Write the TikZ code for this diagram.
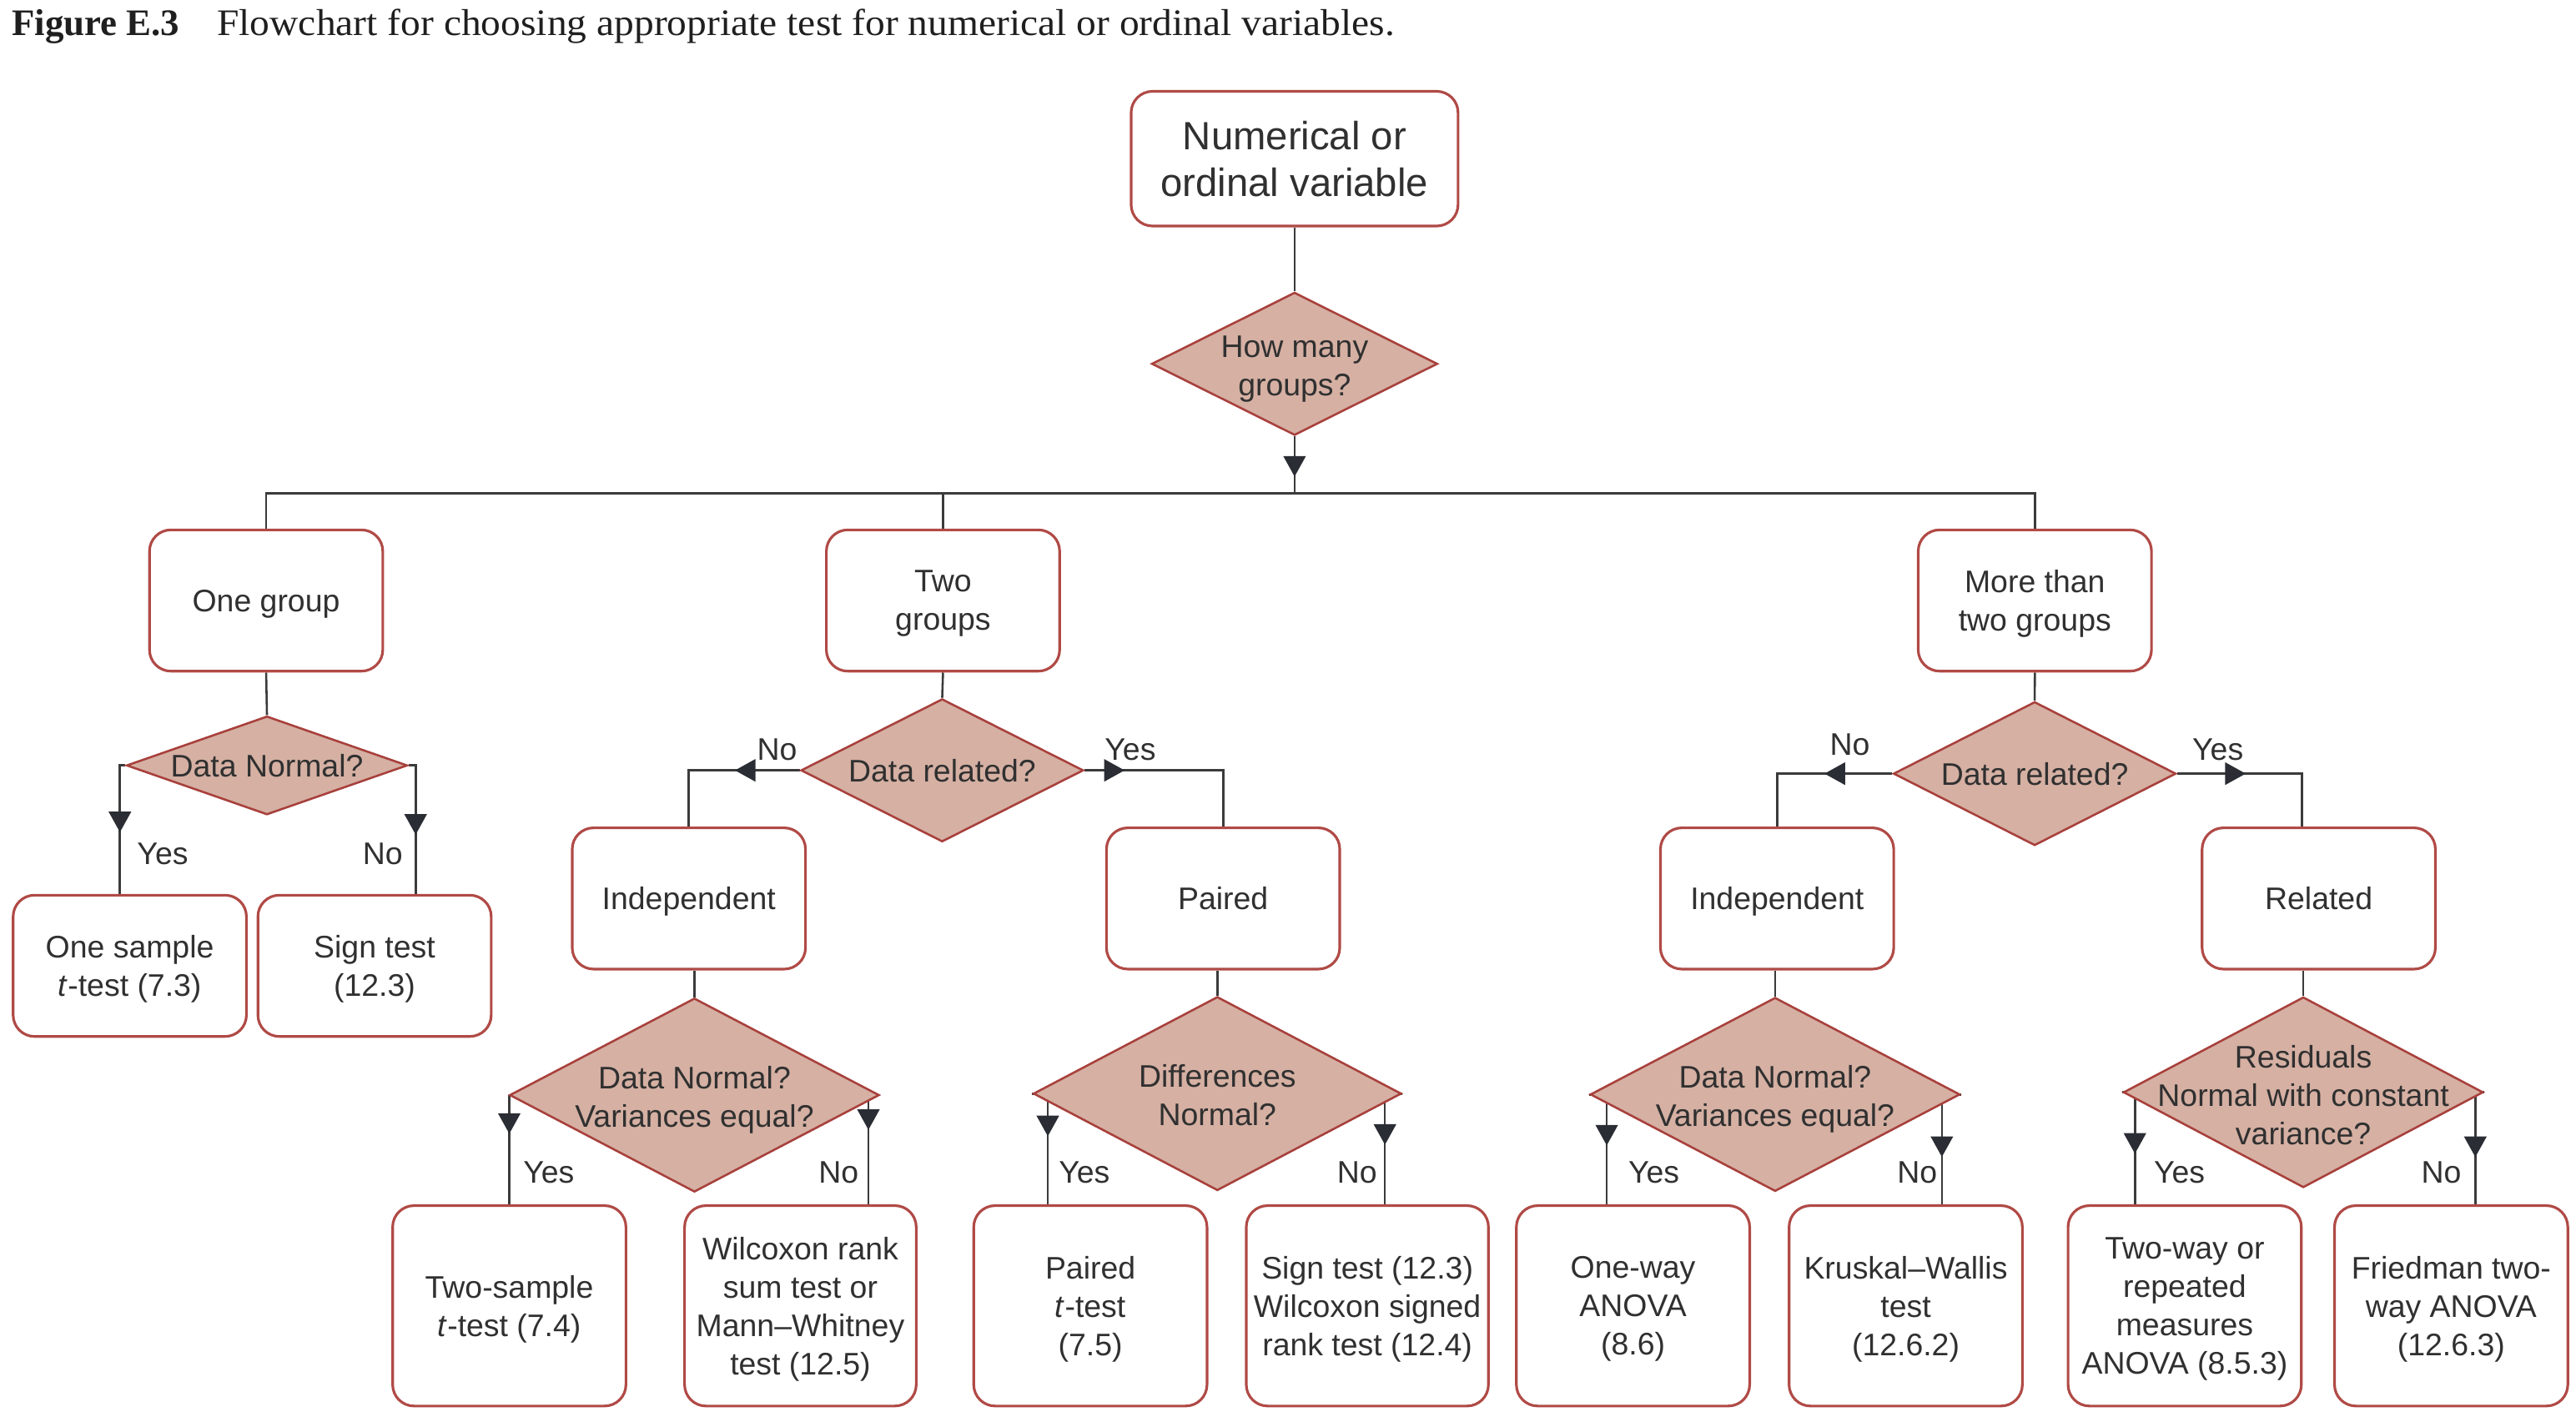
\documentclass[tikz,border=0pt]{standalone}
\usepackage{graphicx}
\usepackage{fontspec}
\setmainfont{Liberation Sans}
\newfontfamily\titlefont{Liberation Serif}
\usetikzlibrary{shapes.geometric,arrows.meta,decorations.markings}
\definecolor{boxred}{HTML}{B04A46}
\definecolor{diafill}{HTML}{D5B0A3}
\definecolor{diaedge}{HTML}{A8403C}
\definecolor{linegray}{HTML}{3B3B3B}
\definecolor{tipgray}{HTML}{2A2D33}
\definecolor{txt}{HTML}{303030}
\pgfdeclarelayer{bg}
\pgfsetlayers{bg,main}
\tikzset{
 box/.style={draw=boxred, line width=1.6pt, rounded corners=13pt, fill=white, minimum width=142pt, minimum height=86pt, align=center, text=txt, font=\fontsize{19}{23.3}\selectfont, inner sep=0pt, text depth=-3pt},
 tallbox/.style={box, minimum height=122pt},
 dia/.style={diamond, draw=diaedge, fill=diafill, line width=1.3pt, inner sep=0pt},
 diatext/.style={align=center, text=txt, font=\fontsize{19}{23.3}\selectfont, inner sep=0pt, text depth=0pt},
 conn/.style={draw=linegray, line width=1.3pt},
 tipat/.style={postaction={decorate}, decoration={markings, mark=at position #1 with {\arrow{Triangle[length=12.5pt,width=13.5pt,color=tipgray]}}}},
 lab/.style={text=txt, font=\fontsize{19}{23}\selectfont, inner sep=0pt},
}
\begin{document}
\begin{tikzpicture}[x=1pt,y=-1pt]
\useasboundingbox (0,0) rectangle (1568,862.7);
\node[anchor=base west, inner sep=0pt, text=black!88, font=\titlefont\fontsize{22.8}{26}\selectfont] (title) at (7,21.4) {\textbf{Figure E.3}\quad \scalebox{1.058}[1]{Flowchart for choosing appropriate test for numerical or ordinal variables.}};

\node[box, minimum width=199pt, minimum height=82pt, font=\fontsize{24}{28.5}\selectfont, text depth=-2pt] (top) at (788,96.6) {Numerical or\\ordinal variable};
\node[dia, minimum width=174pt, minimum height=87pt] (d0) at (788,221.5) {};
\node[diatext] (d0t) at ([yshift=-1pt]d0.center) {How many\\groups?};
\coordinate (bus) at (788,300.4);

\node[box] (g1) at (162,365.6) {One group};
\node[box] (g2) at (574,365.6) {Two\\groups};
\node[box] (g3) at (1238.6,365.6) {More than\\two groups};

% one group
\node[dia, minimum width=171pt, minimum height=60pt] (d1) at (162.5,466) {};
\node[diatext] (d1t) at (d1) {Data Normal?};
\node[box] (os) at (79,588) {One sample\\\textit{t}-test (7.3)};
\node[box] (st1) at (228,588) {Sign test\\(12.3)};

% two groups
\node[dia, minimum width=172pt, minimum height=87pt] (d2) at (573.5,469) {};
\node[diatext] (d2t) at (d2) {Data related?};
\node[box] (i1) at (419.3,547) {Independent};
\node[box] (pd) at (744.5,547) {Paired};
\node[dia, minimum width=225pt, minimum height=118pt] (d3) at (422.7,666.7) {};
\node[diatext] (d3t) at ([yshift=-1pt]d3.center) {Data Normal?\\Variances equal?};
\node[dia, minimum width=224pt, minimum height=118pt] (d4) at (741,665.8) {};
\node[diatext] (d4t) at ([yshift=-1pt]d4.center) {Differences\\Normal?};
\node[tallbox] (ts) at (310,795) {Two-sample\\\textit{t}-test (7.4)};
\node[tallbox, minimum width=141pt] (wr) at (487.2,795) {Wilcoxon rank\\sum test or\\Mann–Whitney\\test (12.5)};
\node[tallbox] (pt) at (663.7,795) {Paired\\\textit{t}-test\\(7.5)};
\node[tallbox, minimum width=147.4pt] (sw) at (832.3,795) {Sign test (12.3)\\Wilcoxon signed\\rank test (12.4)};

% more than two groups
\node[dia, minimum width=172pt, minimum height=87.5pt] (d7) at (1238.5,471) {};
\node[diatext] (d7t) at (d7) {Data related?};
\node[box] (i2) at (1081.7,547) {Independent};
\node[box] (rl) at (1411.4,547) {Related};
\node[dia, minimum width=225pt, minimum height=118pt] (d5) at (1080.5,666.3) {};
\node[diatext] (d5t) at ([yshift=-1pt]d5.center) {Data Normal?\\Variances equal?};
\node[dia, minimum width=219pt, minimum height=116pt] (d6) at (1402,665) {};
\node[diatext] (d6t) at ([yshift=-1.5pt]d6.center) {Residuals\\Normal with constant\\variance?};
\node[tallbox] (ow) at (994,795) {One-way\\ANOVA\\(8.6)};
\node[tallbox] (kw) at (1160,795) {Kruskal–Wallis\\test\\(12.6.2)};
\node[tallbox] (tw) at (1329.8,795) {Two-way or\\repeated\\measures\\ANOVA (8.5.3)};
\node[tallbox] (fr) at (1492,795) {Friedman two-\\way ANOVA\\(12.6.3)};

% labels
\node[lab] (y1) at (99,520) {Yes};
\node[lab] (n1) at (233,520) {No};
\node[lab] (n2) at (473,456.5) {No};
\node[lab] (y2) at (688,456.5) {Yes};
\node[lab] (y3) at (334,714) {Yes};
\node[lab] (n3) at (510.4,714) {No};
\node[lab] (y4) at (660,714) {Yes};
\node[lab] (n4) at (826,714) {No};
\node[lab] (n7) at (1126,453.5) {No};
\node[lab] (y7) at (1350,456.5) {Yes};
\node[lab] (y5) at (1006.7,714) {Yes};
\node[lab] (n5) at (1167,714) {No};
\node[lab] (y6) at (1326.6,714) {Yes};
\node[lab] (n6) at (1486,714) {No};

\begin{pgfonlayer}{bg}
\draw[conn] (top.south) -- (d0.north);
\draw[conn, tipat=24.5pt] (d0.south) -- (bus);
\draw[conn] (g1.north) |- (bus);
\draw[conn] (g3.north) |- (bus);
\draw[conn] (g2.north) -- (g2.north |- bus);

\draw[conn] (g1.south) -- (d1.north);
\draw[conn, tipat=44pt] (d1.west) -| ([xshift=-6pt]os.north);
\draw[conn, tipat=46.5pt] (d1.east) -| ([xshift=25pt]st1.north);

\draw[conn] (g2.south) -- (d2.north);
\draw[conn, tipat=39.5pt] (d2.west) -| (i1.north);
\draw[conn, tipat=24.4pt] (d2.east) -| (pd.north);
\draw[conn] (d3.north) -- (d3.north |- i1.south);
\draw[conn, tipat=24pt] (d3.west) -| (ts.north);
\draw[conn, tipat=28.4pt] (d3.east) -| ([xshift=41.4pt]wr.north);
\draw[conn] (d4.north) -- (d4.north |- pd.south);
\draw[conn, tipat=35.4pt] (d4.west) -| ([xshift=-25.9pt]pt.north);
\draw[conn, tipat=41.8pt] (d4.east) -| ([xshift=10.7pt]sw.north);

\draw[conn] (g3.south) -- (d7.north);
\draw[conn, tipat=41.3pt] (d7.west) -| (i2.north);
\draw[conn, tipat=41.8pt] (d7.east) -| ([xshift=-10.1pt]rl.north);
\draw[conn] (d5.north) -- (d5.north |- i2.south);
\draw[conn, tipat=41.7pt] (d5.west) -| ([xshift=-16pt]ow.north);
\draw[conn, tipat=49.7pt] (d5.east) -| ([xshift=22pt]kw.north);
\draw[conn] (d6.north) -- (d6.north |- rl.south);
\draw[conn, tipat=45pt] (d6.west) -| ([xshift=-30.3pt]tw.north);
\draw[conn, tipat=44.9pt] (d6.east) -| ([xshift=14.7pt]fr.north);
\end{pgfonlayer}
\end{tikzpicture}
\end{document}
